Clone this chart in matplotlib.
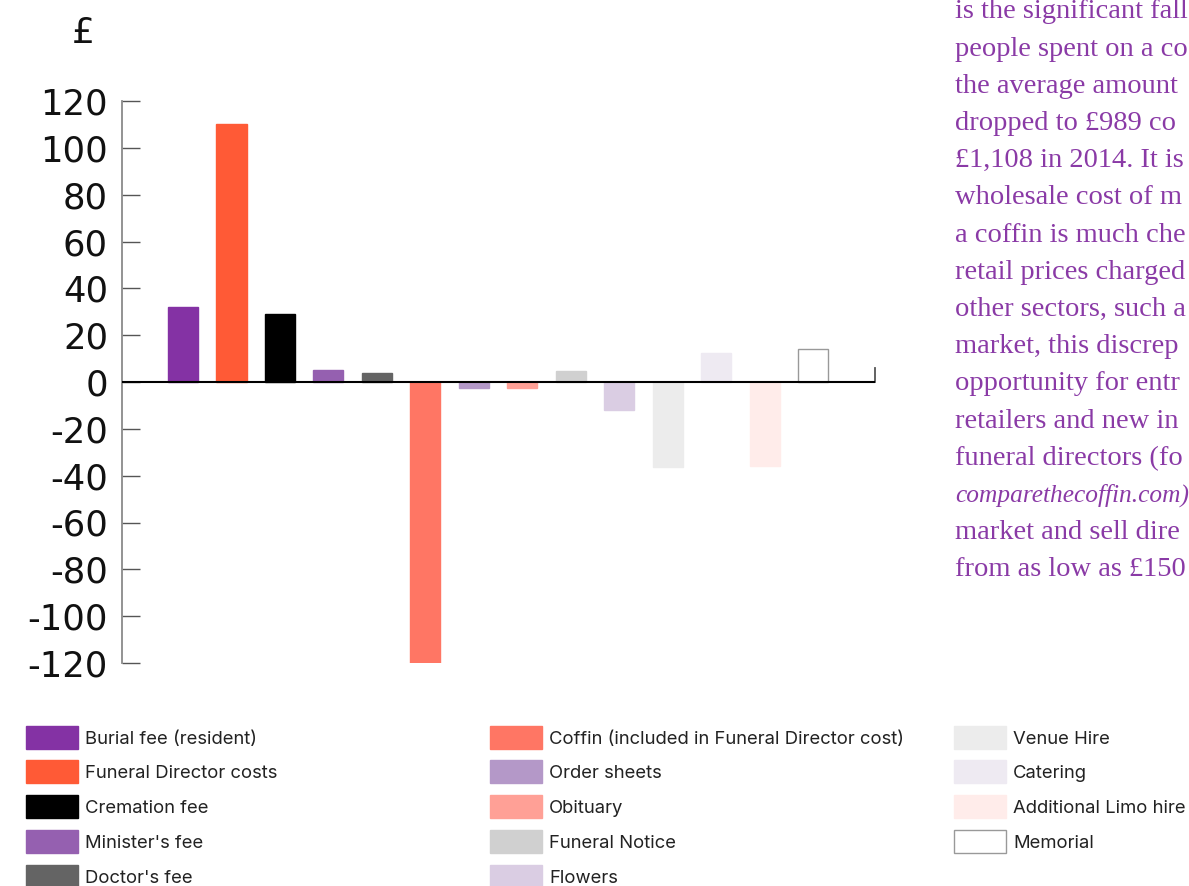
import matplotlib
matplotlib.use("Agg")
import matplotlib.pyplot as plt
from matplotlib.patches import Rectangle

categories = ["Burial fee (resident)", "Funeral Director costs", "Cremation fee",
              "Minister's fee", "Doctor's fee",
              "Coffin (included in Funeral Director cost)", "Order sheets", "Obituary",
              "Funeral Notice", "Flowers",
              "Venue Hire", "Catering", "Additional Limo hire", "Memorial"]
values = [32, 110, 29, 5, 4, -120, -2.5, -2.5, 4.5, -12, -36.5, 12.5, -36, 14]
colors = ["#8432a4", "#ff5a36", "#000000", "#9560b0", "#646464",
          "#ff7664", "#b498c8", "#ffa096", "#d0d0d0", "#dacde3",
          "#ececec", "#eeeaf2", "#ffecea", "#ffffff"]
edgecolors = [c for c in colors[:-1]] + ["#999999"]
yticks = [120, 100, 80, 60, 40, 20, 0, -20, -40, -60, -80, -100, -120]

text_lines = ["is the significant fall", "people spent on a co", "the average amount",
              "dropped to \u00a3989 co", "\u00a31,108 in 2014. It is", "wholesale cost of m",
              "a coffin is much che", "retail prices charged", "other sectors, such a",
              "market, this discrep", "opportunity for entr", "retailers and new in",
              "funeral directors (fo", "comparethecoffin.com)", "market and sell dire",
              "from as low as \u00a3150"]
italic_lines = {13}

plt.rcParams['axes.unicode_minus'] = False

W, H = 1189, 886
fig = plt.figure(figsize=(W / 100, H / 100), dpi=100)
ax = fig.add_axes([122 / W, 1 - 663 / H, (875 - 122) / W, (663 - 101) / H])

x = list(range(len(values)))
ax.bar(x, values, width=0.62, color=colors, edgecolor=edgecolors, linewidth=1.0)
ax.set_xlim(-1.26, 14.28)
ax.set_ylim(-120, 120)
ax.axhline(0, color="black", lw=1.5, zorder=3)

for s in ["top", "bottom"]:
    ax.spines[s].set_visible(False)
ax.spines["left"].set_color("#8a8a8a")
ax.spines["left"].set_linewidth(1.3)
ax.spines["right"].set_color("#555555")
ax.spines["right"].set_linewidth(1.3)
ax.spines["right"].set_bounds(0, 6)

ax.set_xticks([])
ax.set_yticks(yticks)
ax.set_yticklabels([str(v) for v in yticks])
ax.tick_params(axis="y", direction="in", length=13, width=1.0, color="#555555",
               pad=10, labelsize=25.5, labelcolor="#111111")
for lab in ax.get_yticklabels():
    lab.set_fontfamily("DejaVu Sans")

fig.text(83 / W, 1 - 33 / H, "\u00a3", ha="center", va="center", fontsize=26,
         color="#111111", family="DejaVu Sans")

# right-hand text
y0 = 12
for i, line in enumerate(text_lines):
    is_it = i in italic_lines
    fig.text(955 / W, 1 - (y0 + i * 37.2) / H, line, ha="left", va="center",
             fontsize=18.3 if is_it else 20.5, color="#8a3aa6", family="Liberation Serif",
             style="italic" if is_it else "normal")

# legend
col_x = [26, 490, 954]
rows_per_col = [5, 5, 4]
idx = 0
for c, n in enumerate(rows_per_col):
    for r in range(n):
        yc = 737 + r * 34.8
        rect = Rectangle(((col_x[c]) / W, 1 - (yc + 11.5) / H), 52 / W, 23 / H,
                         transform=fig.transFigure, facecolor=colors[idx],
                         edgecolor=edgecolors[idx] if idx == 13 else colors[idx],
                         linewidth=1.0)
        fig.patches.append(rect)
        fig.text((col_x[c] + 59) / W, 1 - (yc + 2) / H, categories[idx], ha="left",
                 va="center", fontsize=13.3, color="#222222", family="Inter")
        idx += 1

fig.savefig("out.png", dpi=100)
